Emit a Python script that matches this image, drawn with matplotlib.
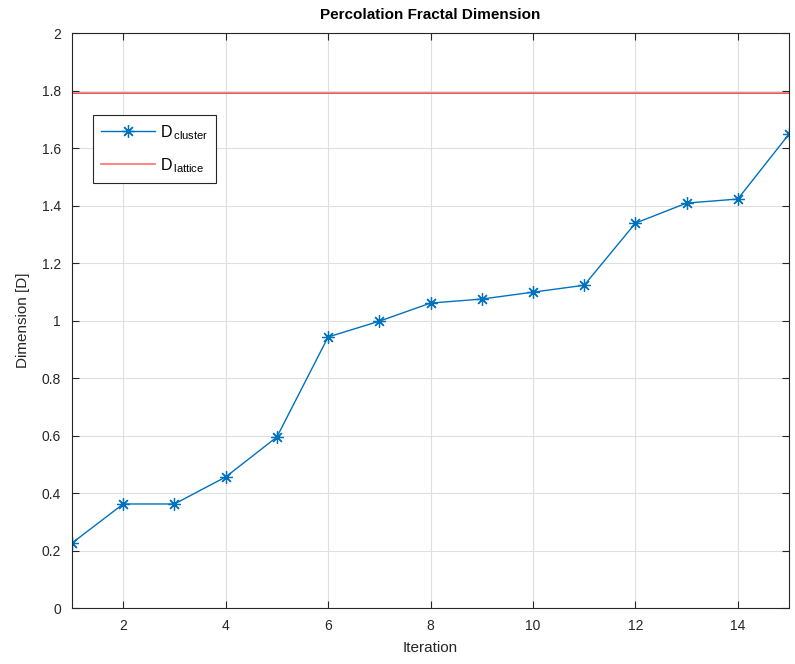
import matplotlib
matplotlib.use("Agg")
import matplotlib.pyplot as plt
from matplotlib.ticker import FuncFormatter

plt.rcParams['font.family'] = ['Liberation Sans', 'DejaVu Sans']
plt.rcParams['mathtext.fontset'] = 'custom'
plt.rcParams['mathtext.rm'] = 'Liberation Sans'

iterations = [1, 2, 3, 4, 5, 6, 7, 8, 9, 10, 11, 12, 13, 14, 15]
d_cluster = [0.226, 0.362, 0.362, 0.456, 0.595, 0.943, 0.998, 1.061,
             1.075, 1.099, 1.123, 1.339, 1.409, 1.423, 1.649]
d_lattice = 1.7925
x_ticks = [2, 4, 6, 8, 10, 12, 14]
y_ticks = [0, 0.2, 0.4, 0.6, 0.8, 1.0, 1.2, 1.4, 1.6, 1.8, 2.0]

fig = plt.figure(figsize=(7.95, 6.64), dpi=100)
ax = fig.add_axes([0.0906, 0.0843, 0.9019, 0.8657])

blue = '#0072BD'
red = '#FF6E6E'
ax.plot(iterations, d_cluster, color=blue, lw=1.0, marker=(8, 2, 0), markersize=9,
        markeredgewidth=0.9, label=r'D$_{\,\mathrm{cluster}}$')
ax.axhline(d_lattice, color=red, lw=1.2, label=r'D$_{\,\mathrm{lattice}}$')
ax.axhline(d_lattice, color='#B03030', lw=0.5, alpha=0.6)

ax.set_xlim(1, 15)
ax.set_ylim(0, 2)
ax.set_xticks(x_ticks)
ax.set_yticks(y_ticks)
ax.yaxis.set_major_formatter(FuncFormatter(lambda v, p: f'{v:g}'))
ax.grid(True, color='#DFDFDF', lw=0.8)
ax.set_axisbelow(True)
ax.tick_params(direction='in', top=True, right=True, length=5, width=0.8,
               colors='#262626', labelsize=10, pad=8)
for s in ax.spines.values():
    s.set_color('#262626')
    s.set_linewidth(0.8)

ax.set_xlabel('Iteration', fontsize=11, color='#262626', labelpad=6)
ax.set_ylabel('Dimension [D]', fontsize=11, color='#262626', labelpad=8)
ax.set_title('Percolation Fractal Dimension', fontsize=11, fontweight='bold',
             color='black', pad=10)

leg = ax.legend(loc='upper left', bbox_to_anchor=(0.029, 0.858), fontsize=11.5,
                frameon=True, fancybox=False, framealpha=1, edgecolor='#262626',
                handlelength=3.4, handletextpad=0.3, borderpad=0.5,
                labelspacing=0.9, borderaxespad=0)
leg.get_frame().set_linewidth(0.8)

fig.savefig('out.png', dpi=100)
